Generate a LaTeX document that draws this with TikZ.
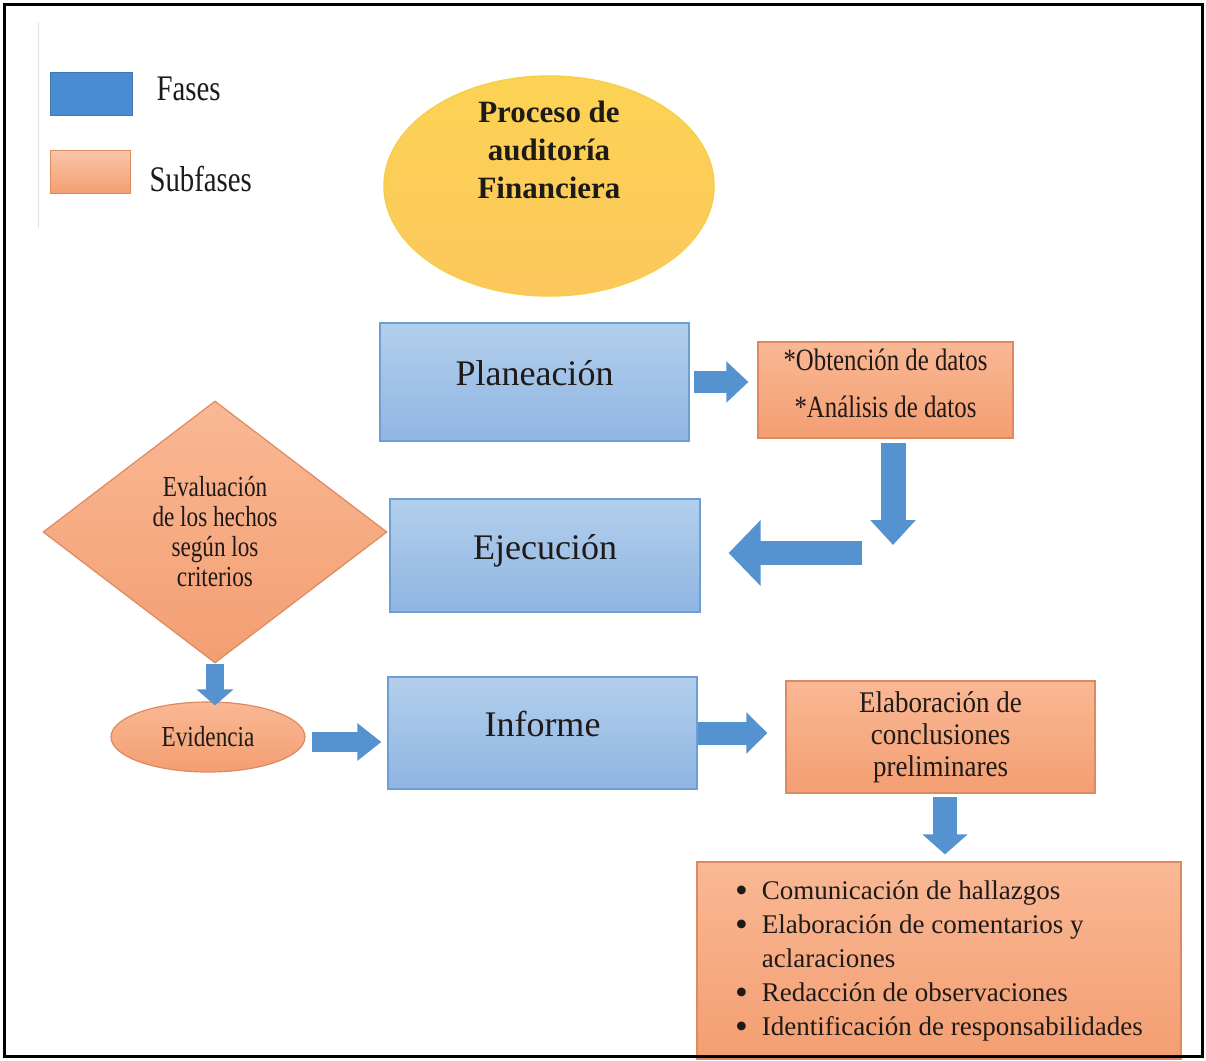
\documentclass[tikz,border=0pt]{standalone}
\usepackage{fontspec}
\setmainfont{Liberation Serif}
\newfontfamily\condA[FakeStretch=0.8]{Liberation Serif}
\newfontfamily\condB[FakeStretch=0.9]{Liberation Serif}
\usetikzlibrary{shapes.geometric,arrows.meta}
\definecolor{faseT}{HTML}{B3CFEC}
\definecolor{faseBot}{HTML}{8FB5E2}
\definecolor{faseB}{HTML}{6E9ED6}
\definecolor{subT}{HTML}{F9B894}
\definecolor{subBot}{HTML}{F49E72}
\definecolor{subB}{HTML}{DE8A60}
\definecolor{legBlue}{HTML}{4A8CD2}
\definecolor{legBlueB}{HTML}{3E77B8}
\definecolor{procFill}{HTML}{FCCB62}
\definecolor{procB}{HTML}{F5CF4A}
\definecolor{arrBlue}{HTML}{5592D0}
\definecolor{txt}{HTML}{1E1A18}
\newcommand{\bigbul}{\raisebox{-3pt}{\scalebox{1.35}{\textbullet}}}
\begin{document}
\begin{tikzpicture}[x=1pt,y=-1pt,
  fase/.style={draw=faseB, line width=1.2pt, top color=faseT, bottom color=faseBot,
    inner sep=0pt, text=txt, text depth=18pt, font=\fontsize{36}{40}\selectfont},
  sub/.style={draw=subB, line width=1.2pt, top color=subT, bottom color=subBot,
    inner sep=0pt, text=txt, align=center},
  fat/.style={draw=arrBlue},
  legtext/.style={anchor=west, text=txt, font=\condA\fontsize{36}{40}\selectfont}
]
\useasboundingbox (0,0) rectangle (1206,1060);

% legend
\draw[black!12, line width=1pt] (38,22) coordinate (lt) -- (38,228) coordinate (lb);
\node[draw=legBlueB, fill=legBlue, line width=1pt, minimum width=82pt, minimum height=43pt, inner sep=0pt] (legF) at (91,93.5) {};
\node[legtext] (legFt) at (153,89) {Fases};
\node[draw=subB, top color=subT!80!white, bottom color=subBot, line width=1pt, minimum width=80pt, minimum height=43pt, inner sep=0pt] (legS) at (90,171.5) {};
\node[legtext] (legSt) at (146,179) {Subfases};

% title ellipse
\node[ellipse, draw=procB, line width=1.5pt, top color=procFill!85!yellow, bottom color=procFill!95!orange, minimum width=330pt, minimum height=220pt, inner sep=0pt] (proc) at (549,186) {};
\node[align=center, text=txt, font=\bfseries\fontsize{31}{38}\selectfont] (procT) at (549,150) {Proceso de\\auditoría\\Financiera};

% phases
\node[fase, minimum width=309pt, minimum height=118pt] (pl) at (534.5,382) {Planeación};
\node[fase, minimum width=310pt, minimum height=113pt] (ej) at (545,555.5) {Ejecución};
\node[fase, minimum width=309pt, minimum height=112pt] (inf) at (542.5,733) {Informe};

% subphases
\node[sub, minimum width=255pt, minimum height=96pt, text depth=14pt, font=\condA\fontsize{31}{36}\selectfont] (ob) at (885.5,390) {*Obtención de datos\\[11pt]*Análisis de datos};
\node[sub, diamond, minimum width=344pt, minimum height=262pt, font=\condA\fontsize{29}{30}\selectfont] (dia) at (215,532) {Evaluación\\de los hechos\\según los\\criterios};
\node[sub, ellipse, minimum width=194pt, minimum height=70pt, font=\condA\fontsize{29}{30}\selectfont] (ev) at (208,737) {Evidencia};
\node[sub, minimum width=309pt, minimum height=112pt, font=\condB\fontsize{30}{32}\selectfont] (el) at (940.5,737) {Elaboración de\\conclusiones\\preliminares};
\node[sub, minimum width=484pt, minimum height=197pt, font=\fontsize{27}{34}\selectfont] (lst) at (939,960.5) {%
  \begin{tabular}{@{}l@{\hspace{14pt}}l@{}}
  \bigbul & Comunicación de hallazgos\\
  \bigbul & Elaboración de comentarios y\\
   & aclaraciones\\
  \bigbul & Redacción de observaciones\\
  \bigbul & Identificación de responsabilidades
  \end{tabular}};

% block arrows
\coordinate (c1) at (893,545);
\coordinate (c2) at (862,553);
\draw[fat, line width=22pt, -{Triangle[width=40pt,length=22pt]}, shorten <=4pt, shorten >=9pt] (pl.east) -- (pl.east -| ob.west);
\draw[fat, line width=25pt, -{Triangle[width=44pt,length=25pt]}, shorten <=4pt] (ob.south -| c1) -- (c1);
\draw[fat, line width=24pt, -{Triangle[width=64pt,length=32pt]}, shorten >=28pt] (c2) -- (c2 -| ej.east);
\draw[fat, line width=18pt, -{Triangle[width=36pt,length=16pt]}, shorten >=-4pt] (dia.south) -- (dia.south |- ev.north);
\draw[fat, line width=20pt, -{Triangle[width=36pt,length=24pt]}, shorten <=6pt, shorten >=6pt] (ev.east |- 0,742) -- (inf.west |- 0,742);
\draw[fat, line width=23pt, -{Triangle[width=40pt,length=21pt]}, shorten >=18pt] (inf.east) -- (el.west |- inf.east);
\draw[fat, line width=24pt, -{Triangle[width=44pt,length=20pt]}, shorten <=3pt, shorten >=7pt] ([xshift=4.5pt]el.south) -- ([xshift=4.5pt]el.south |- lst.north);

% outer frame
\draw[black, line width=3pt] (4,4) rectangle (1202,1056);
\end{tikzpicture}
\end{document}
